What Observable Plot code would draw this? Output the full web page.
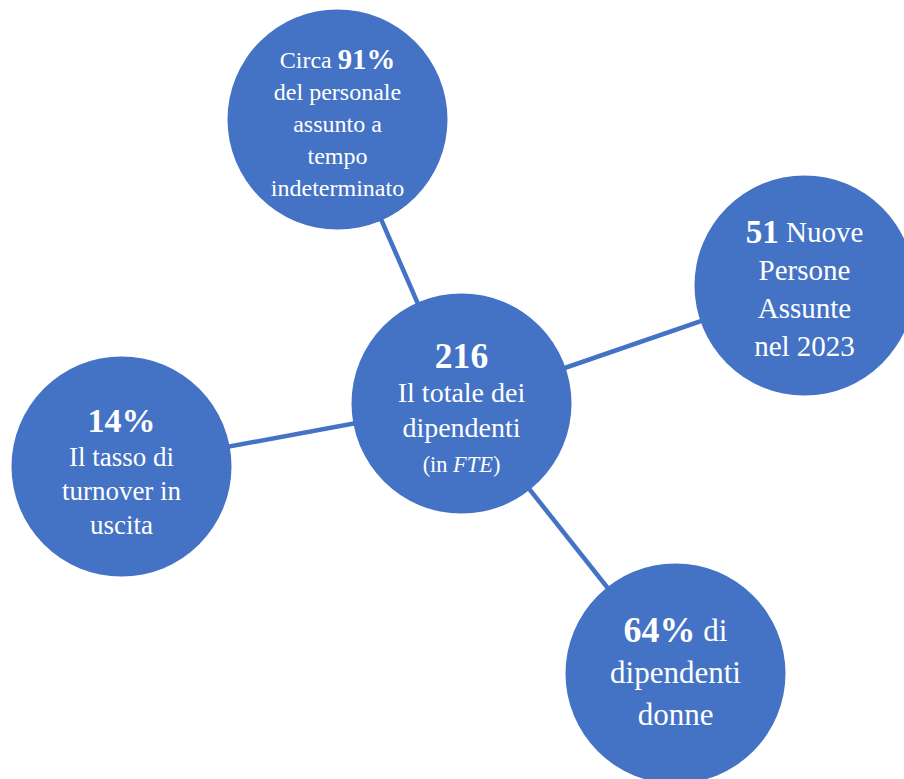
<!DOCTYPE html>
<html>
<head>
<meta charset="utf-8">
<script src="https://cdn.jsdelivr.net/npm/d3@7"></script>
<script src="https://cdn.jsdelivr.net/npm/@observablehq/plot@0.6"></script>
<style>
  html, body { margin: 0; padding: 0; background: #ffffff; overflow: hidden; }
  #chart svg { display: block; overflow: hidden; }
</style>
</head>
<body>
<div id="chart"></div>
<script>
// ---- data ----
const nodes = ["Totale dipendenti", "Tempo indeterminato", "Nuove assunzioni", "Turnover in uscita", "Dipendenti donne"];
const nodeX = [461, 337, 804, 121, 675];
const nodeY = [403, 119, 285, 466, 673];
const labels = [
  "**216**\nIl totale dei\ndipendenti\n~(in *FTE*)~",
  "Circa **91%**\ndel personale\nassunto a\ntempo\nindeterminato",
  "**51** Nuove\nPersone\nAssunte\nnel 2023",
  "**14%**\nIl tasso di\nturnover in\nuscita",
  "**64%** di\ndipendenti\ndonne"
];

// ---- styles ----
const BLUE = "#4472C4";
const FONT = "'Liberation Serif', 'DejaVu Serif', serif";
const textStyle = [
  {fontSize: 28, lineHeight: 35 / 28, firstBaseline: -36, boldScale: 1.27, smallScale: 0.8},
  {fontSize: 24, lineHeight: 32 / 24, firstBaseline: -51, boldScale: 1.2, smallScale: 0.8},
  {fontSize: 29, lineHeight: 38 / 29, firstBaseline: -43, boldScale: 1.14, smallScale: 0.8},
  {fontSize: 27, lineHeight: 34.3 / 27, firstBaseline: -35, boldScale: 1.26, smallScale: 0.8},
  {fontSize: 31, lineHeight: 42 / 31, firstBaseline: -32, boldScale: 1.16, smallScale: 0.8}
];

const rows = nodes.map((name, i) => ({name, x: nodeX[i], y: nodeY[i], label: labels[i]}));
const hub = rows[0];

const W = 904, H = 779;

const plot = Plot.plot({
  width: W,
  height: H,
  margin: 0,
  x: {domain: [0, W], range: [0, W], axis: null},
  y: {domain: [0, H], range: [0, H], axis: null},
  marks: [
    Plot.link(rows.slice(1), {
      x1: () => hub.x, y1: () => hub.y, x2: "x", y2: "y",
      stroke: BLUE, strokeWidth: 4.5
    }),
    Plot.dot(rows, {x: "x", y: "y", r: 110, fill: BLUE, stroke: "none"}),
    ...textStyle.map((st, i) => Plot.text([rows[i]], {
      x: "x", y: "y", text: "label",
      fill: "white", fontFamily: FONT, fontSize: st.fontSize,
      lineHeight: st.lineHeight, lineAnchor: "top", textAnchor: "middle",
      dy: st.firstBaseline - 0.71 * st.lineHeight * st.fontSize
    }))
  ]
});

// rich text: **bold**, *italic*, ~small~
const NS = "http://www.w3.org/2000/svg";
function applyMarkup(el, st) {
  const s = el.textContent;
  if (!/[*~]/.test(s)) return;
  el.textContent = "";
  let bold = false, italic = false, small = false;
  for (const tok of s.split(/(\*\*|\*|~)/)) {
    if (tok === "**") { bold = !bold; continue; }
    if (tok === "*") { italic = !italic; continue; }
    if (tok === "~") { small = !small; continue; }
    if (!tok) continue;
    const t = document.createElementNS(NS, "tspan");
    if (bold) { t.setAttribute("font-weight", "bold"); t.setAttribute("font-size", (st.fontSize * st.boldScale) + "px"); }
    if (small) t.setAttribute("font-size", (st.fontSize * st.smallScale) + "px");
    if (italic) t.setAttribute("font-style", "italic");
    t.textContent = tok;
    el.appendChild(t);
  }
}
const textGroups = plot.querySelectorAll('g[aria-label="text"]');
textGroups.forEach((g, i) => {
  const st = textStyle[i];
  g.querySelectorAll("text").forEach(txt => {
    const spans = txt.querySelectorAll(":scope > tspan");
    if (spans.length) spans.forEach(sp => applyMarkup(sp, st));
    else applyMarkup(txt, st);
  });
});

document.getElementById("chart").appendChild(plot);
</script>
</body>
</html>
